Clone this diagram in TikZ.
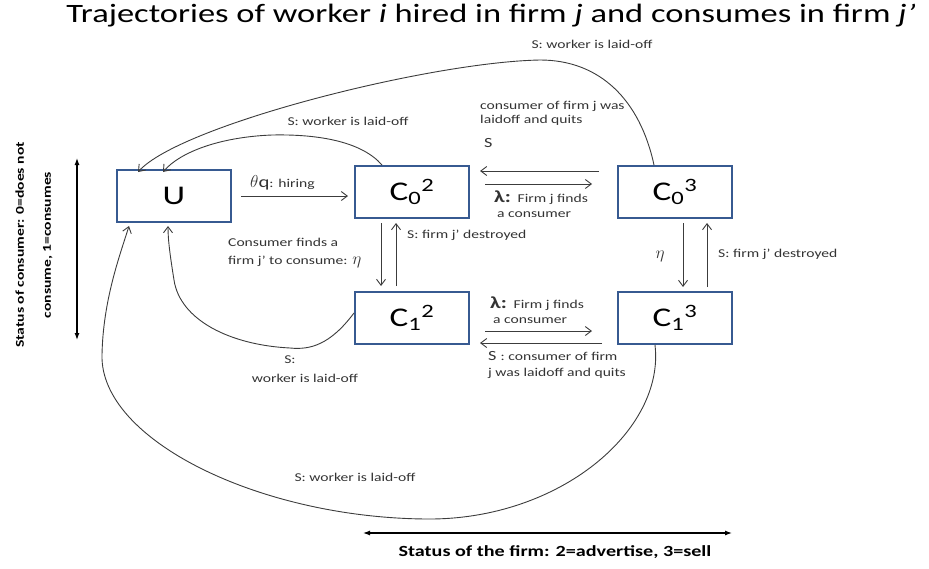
\documentclass[tikz,border=0pt]{standalone}
\usepackage{fontspec}
\setmainfont{Carlito}[FakeStretch=1.3]
\usetikzlibrary{arrows.meta}
\definecolor{boxblue}{RGB}{55,90,145}
\definecolor{ln}{RGB}{60,60,60}
\begin{document}
\begin{tikzpicture}[x=1pt,y=-1pt,
  statebox/.style={draw=boxblue,line width=2pt,fill=white,minimum width=114pt,minimum height=52pt,font=\fontsize{27}{30}\selectfont,inner sep=0pt},
  conn/.style={draw=ln,line width=0.9pt,-{Straight Barb[length=6pt,width=9pt]}},
  lab/.style={font=\fontsize{12}{14}\selectfont,text=black!80,inner sep=0pt,align=left},
  axis/.style={draw=black,line width=1.2pt,{Latex[length=7pt,width=5pt]}-{Latex[length=7pt,width=5pt]}},
  axlab/.style={font=\fontsize{15.5}{17}\selectfont\bfseries,inner sep=0pt,align=center}]
\useasboundingbox (0,0) rectangle (929,568);
\node[inner sep=0pt,font=\fontsize{26.5}{32}\selectfont] (title) at (491,16) {Trajectories of worker \textit{i} hired in firm \textit{j} and consumes in firm \textit{j’}};

\node[statebox] (U) at (174,196) {U};
\node[statebox] (C02) at (412,192) {C\textsubscript{0}\textsuperscript{2}};
\node[statebox] (C03) at (675,192) {C\textsubscript{0}\textsuperscript{3}};
\node[statebox] (C12) at (412,318) {C\textsubscript{1}\textsuperscript{2}};
\node[statebox] (C13) at (675,318) {C\textsubscript{1}\textsuperscript{3}};

% U -> C02
\draw[conn] ([xshift=9pt]U.east) -- ([xshift=-6pt]C02.west |- U.east);
\node[lab,anchor=south west] (l1) at (250,190) {\fontsize{16}{17}\selectfont$\theta$q\fontsize{12}{14}\selectfont: hiring};

% C02 <-> C03
\draw[conn] ([xshift=-18pt,yshift=21pt]C03.west) -- ([xshift=10pt,yshift=21pt]C02.east);
\draw[conn] ([xshift=15pt,yshift=8pt]C02.east) -- ([xshift=-25pt,yshift=8pt]C03.west);
\node[lab,anchor=north west] (l2) at (480,101) {consumer of firm j was\\laidoff and quits};
\node[lab,anchor=west,font=\fontsize{14}{16}\selectfont] (l3) at (484,143) {S};
\node[lab,anchor=west] (l4) at (494,198) {\fontsize{17}{18}\selectfont\textbf{λ:} \fontsize{12}{14}\selectfont Firm j finds};
\node[lab,anchor=west] (l5) at (497,215) {a consumer};

% C02 <-> C12
\draw[conn] ([xshift=-31pt,yshift=-4pt]C02.south) -- ([xshift=-31pt,yshift=5pt]C12.north);
\draw[conn] ([xshift=-16pt,yshift=5pt]C12.north) -- ([xshift=-16pt,yshift=-4pt]C02.south);
\node[lab,anchor=west] (l6) at (407,235) {S: firm j’ destroyed};
\node[lab,anchor=west] (l7) at (228,242) {Consumer finds a};
\node[lab,anchor=west] (l8) at (228,262) {firm j’ to consume: \fontsize{16}{17}\selectfont$\eta$};

% C03 <-> C13
\draw[conn] ([xshift=8pt,yshift=-4pt]C03.south) -- ([xshift=8pt,yshift=4pt]C13.north);
\draw[conn] ([xshift=32pt,yshift=4pt]C13.north) -- ([xshift=32pt,yshift=-4pt]C03.south);
\node[lab,anchor=center,font=\fontsize{16}{17}\selectfont] (l9) at (660,256) {$\eta$};
\node[lab,anchor=west] (l10) at (718,254) {S: firm j’ destroyed};

% C12 <-> C13
\draw[conn] ([xshift=15pt,yshift=-13pt]C12.east) -- ([xshift=-25pt,yshift=-13pt]C13.west);
\draw[conn] ([xshift=-15pt,yshift=-25pt]C13.west) -- ([xshift=10pt,yshift=-25pt]C12.east);
\node[lab,anchor=west] (l11) at (490,304) {\fontsize{17}{18}\selectfont\textbf{λ:} \fontsize{12}{14}\selectfont Firm j finds};
\node[lab,anchor=west] (l12) at (493,321) {a consumer};
\node[lab,anchor=west] (l13) at (488,356) {\fontsize{14}{16}\selectfont S \fontsize{12}{14}\selectfont: consumer of firm};
\node[lab,anchor=west] (l14) at (488,373) {j was laidoff and quits};

% curves to U
\coordinate (t1) at ([xshift=-30pt]C02.north);
\draw[conn] (t1) .. controls (362,142) and (320,134) .. (272,135) .. controls (220,137) and (180,152) .. ([xshift=-11pt,yshift=-3pt]U.north);
\node[lab] (l15) at (348,121) {S: worker is laid-off};

\coordinate (t2) at ([xshift=-21pt]C03.north);
\draw[conn] (t2) .. controls (640,100) and (600,60) .. (540,60) .. controls (430,62) and (180,125) .. ([xshift=-36pt,yshift=-3pt]U.north);
\node[lab] (l16) at (592,44) {S: worker is laid-off};

\coordinate (t3) at ([yshift=5pt]C12.west);
\draw[conn] (t3) .. controls (330,345) and (310,350) .. (290,348) .. controls (230,345) and (180,320) .. (174,280) .. controls (170,255) and (168,240) .. ([xshift=-6pt,yshift=-3pt]U.south);
\node[lab] (l17) at (290,360) {S:};
\node[lab] (l18) at (305,378) {worker is laid-off};

\coordinate (t4) at ([xshift=-20pt]C13.south);
\draw[conn] (t4) .. controls (665,430) and (560,520) .. (427,519) .. controls (260,518) and (100,440) .. (102,355) .. controls (103,300) and (120,255) .. ([xshift=-45pt,yshift=-3pt]U.south);
\node[lab] (l19) at (355,477) {S: worker is laid-off};

% axes
\draw[axis] (77,158) coordinate (ya) -- (77,340) coordinate (yb);
\node[axlab,rotate=90,font=\fontsize{12}{27}\selectfont\bfseries] (ylab) at (34,245) {Status of consumer: 0=does not\\consume, 1=consumes};
\draw[axis] (363,533) coordinate (xa) -- (732,533) coordinate (xb);
\node[axlab] (xlab) at (555,552) {Status of the firm: 2=advertise, 3=sell};
\end{tikzpicture}
\end{document}
